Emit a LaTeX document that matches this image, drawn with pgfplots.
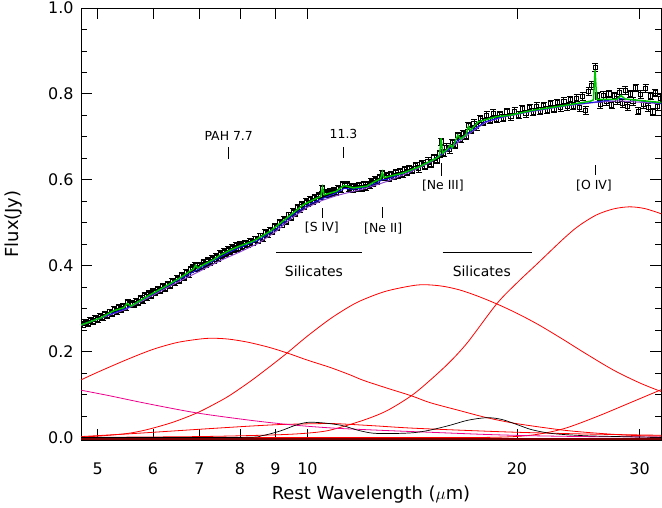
\documentclass[border=0pt]{standalone}
\usepackage{fontspec}
\setmainfont{DejaVu Sans}
\usepackage{pgfplots}
\pgfplotsset{compat=1.18}
\usepackage{pgfplotstable}
\definecolor{fitgreen}{RGB}{0,200,0}
\definecolor{contblue}{RGB}{20,20,230}
\definecolor{contpurple}{RGB}{140,70,210}
\definecolor{darkred}{RGB}{120,0,0}

\pgfplotstableread{
x y e
4.72 .264 .007
4.76 .262 .007
4.80 .268 .007
4.84 .266 .007
4.88 .272 .007
4.92 .270 .007
4.96 .276 .007
5.00 .274 .007
5.04 .281 .007
5.08 .279 .007
5.12 .286 .007
5.16 .284 .007
5.20 .292 .007
5.24 .289 .007
5.28 .298 .007
5.32 .294 .007
5.36 .302 .007
5.40 .298 .007
5.44 .305 .007
5.48 .303 .007
5.52 .314 .007
5.56 .309 .007
5.60 .312 .007
5.64 .310 .007
5.68 .317 .007
5.72 .315 .007
5.76 .323 .007
5.80 .320 .007
5.84 .330 .007
5.88 .327 .007
5.92 .335 .007
5.96 .331 .007
6.00 .340 .007
6.05 .337 .007
6.10 .345 .007
6.15 .342 .007
6.20 .351 .007
6.25 .347 .007
6.30 .357 .007
6.35 .353 .007
6.40 .364 .007
6.45 .360 .007
6.50 .370 .007
6.55 .366 .007
6.60 .377 .007
6.65 .372 .007
6.70 .384 .007
6.75 .380 .007
6.80 .391 .007
6.85 .395 .007
6.90 .401 .007
6.95 .394 .007
7.00 .400 .007
7.05 .398 .007
7.10 .407 .007
7.15 .403 .007
7.20 .412 .007
7.25 .408 .007
7.30 .416 .007
7.35 .411 .007
7.40 .421 .007
7.45 .417 .007
7.50 .428 .007
7.55 .423 .007
7.60 .433 .007
7.65 .429 .007
7.70 .438 .007
7.75 .433 .007
7.80 .442 .007
7.85 .437 .007
7.90 .446 .007
7.95 .441 .007
8.00 .449 .007
8.07 .445 .007
8.14 .452 .007
8.21 .449 .007
8.28 .456 .007
8.35 .453 .007
8.42 .462 .007
8.49 .459 .007
8.56 .469 .007
8.63 .464 .007
8.70 .477 .007
8.77 .472 .007
8.84 .483 .007
8.91 .479 .007
8.98 .492 .007
9.05 .488 .007
9.12 .500 .007
9.19 .495 .007
9.26 .508 .007
9.33 .504 .007
9.40 .518 .007
9.47 .513 .007
9.54 .526 .007
9.61 .522 .007
9.68 .535 .007
9.75 .530 .007
9.82 .542 .007
9.89 .538 .007
9.96 .549 .007
10.03 .544 .007
10.10 .554 .007
10.17 .550 .007
10.24 .558 .007
10.31 .554 .007
10.38 .563 .007
10.45 .560 .007
10.51 .579 .007
10.58 .566 .007
10.65 .570 .007
10.72 .566 .007
10.79 .573 .007
10.86 .569 .007
10.93 .575 .007
11.00 .571 .007
11.08 .580 .007
11.16 .578 .007
11.24 .588 .007
11.32 .586 .007
11.40 .589 .007
11.48 .580 .007
11.56 .584 .007
11.64 .578 .007
11.72 .584 .007
11.80 .579 .007
11.88 .586 .007
11.96 .580 .007
12.04 .588 .007
12.12 .583 .007
12.20 .590 .007
12.28 .586 .007
12.36 .595 .007
12.44 .591 .007
12.52 .600 .007
12.60 .597 .007
12.70 .606 .007
12.81 .614 .007
12.90 .605 .007
13.00 .610 .007
13.10 .604 .007
13.20 .613 .007
13.30 .607 .007
13.40 .617 .007
13.50 .610 .007
13.60 .620 .007
13.70 .613 .007
13.80 .623 .007
13.90 .617 .007
14.00 .627 .007
14.15 .622 .008
14.30 .632 .008
14.45 .626 .008
14.60 .638 .008
14.75 .632 .008
14.90 .643 .008
15.05 .637 .008
15.20 .652 .008
15.35 .645 .008
15.50 .660 .008
15.57 .688 .008
15.70 .662 .008
15.85 .676 .008
16.00 .670 .008
16.15 .686 .008
16.30 .680 .008
16.45 .703 .008
16.60 .695 .008
16.75 .708 .008
16.90 .702 .008
17.03 .726 .008
17.20 .716 .008
17.35 .732 .008
17.50 .724 .008
17.70 .742 .008
17.90 .734 .008
18.10 .750 .008
18.30 .738 .008
18.50 .755 .008
18.70 .741 .008
18.90 .752 .008
19.10 .744 .008
19.35 .758 .008
19.60 .747 .008
19.85 .760 .008
20.10 .750 .008
20.35 .765 .008
20.60 .754 .008
20.85 .768 .008
21.10 .757 .008
21.35 .771 .008
21.60 .760 .008
21.85 .773 .008
22.10 .762 .008
22.35 .777 .008
22.60 .765 .008
22.85 .780 .008
23.10 .768 .008
23.35 .783 .008
23.60 .770 .008
23.85 .787 .008
24.10 .772 .008
24.35 .790 .008
24.60 .768 .009
24.85 .794 .009
25.10 .762 .009
25.35 .805 .009
25.60 .820 .009
25.89 .862 .009
26.10 .795 .009
26.35 .775 .009
26.60 .797 .009
26.85 .782 .009
27.10 .800 .009
27.35 .774 .009
27.60 .795 .009
27.85 .785 .009
28.10 .803 .009
28.35 .778 .009
28.60 .808 .009
28.85 .770 .009
29.10 .800 .009
29.35 .783 .009
29.60 .814 .009
29.85 .760 .009
30.10 .798 .009
30.35 .776 .009
30.60 .812 .009
30.85 .768 .009
31.10 .795 .009
31.35 .758 .009
31.60 .802 .009
31.85 .770 .009
32.10 .790 .009
}\obsdata

\begin{document}
\begin{tikzpicture}
\begin{axis}[
  scale only axis,
  width=580bp, height=432bp,
  xmode=log,
  xmin=4.73, xmax=32.2,
  ymin=-0.006, ymax=1.0,
  xtick={5,6,7,8,9,10,20,30},
  xticklabels={5,6,7,8,9,10,20,30},
  minor xtick={},
  ytick={0,0.2,0.4,0.6,0.8,1.0},
  minor ytick={0.05,0.1,0.15,0.25,0.3,0.35,0.45,0.5,0.55,0.65,0.7,0.75,0.85,0.9,0.95},
  yticklabel style={/pgf/number format/.cd, fixed, fixed zerofill, precision=1, /tikz/.cd, xshift=-4bp},
  xticklabel style={yshift=-19bp},
  /pgf/number format/assume math mode=true,
  tick label style={font=\fontsize{16}{18}\selectfont},
  major tick length=11bp,
  minor tick length=6bp,
  axis line style={line width=0.8bp},
  every tick/.style={black, line width=0.8bp},
  xlabel={Rest Wavelength ($\mu$m)},
  ylabel={Flux(Jy)},
  label style={font=\fontsize{18}{20}\selectfont},
  xlabel style={at={(axis description cs:0.5,-0.127)}, anchor=center},
  ylabel style={at={(axis description cs:-0.117,0.5)}, anchor=center},
  clip=true,
  clip marker paths=true,
]
% components
\addplot[darkred, line width=2bp] coordinates {(4.73,-0.004) (32.2,-0.004)};
\addplot[red, line width=0.8bp, smooth] coordinates {
(4.73,0.134) (5.0,0.152) (5.5,0.181) (6.0,0.205) (6.5,0.221) (7.0,0.229) (7.3,0.231) (7.7,0.229) (8.2,0.222) (8.8,0.210) (9.34,0.197) (10.0,0.180) (10.78,0.163) (11.5,0.146) (12.03,0.133) (13,0.115) (14.1,0.097) (15,0.081) (16.5,0.063) (18.1,0.046) (20,0.032) (23.3,0.017) (26,0.010) (29,0.005) (32.2,0.003)};
\addplot[red, line width=0.8bp, smooth] coordinates {
(4.73,0.001) (5.0,0.003) (5.5,0.009) (5.88,0.018) (6.4,0.035) (6.94,0.057) (7.4,0.080) (7.74,0.098) (8.27,0.130) (8.8,0.163) (9.34,0.196) (10.0,0.236) (10.78,0.276) (11.5,0.305) (12.03,0.321) (13,0.341) (14.4,0.355) (15.5,0.353) (16.5,0.344) (17.5,0.330) (18.7,0.311) (20,0.289) (21.5,0.262) (23.3,0.228) (25,0.197) (27.5,0.157) (30,0.127) (32.2,0.107)};
\addplot[red, line width=0.8bp, smooth] coordinates {
(4.73,0.000) (7,0.002) (9,0.006) (10,0.010) (10.78,0.017) (12.03,0.040) (13,0.062) (14.1,0.097) (15,0.133) (16,0.175) (17,0.222) (18.7,0.311) (20,0.360) (21.4,0.405) (23.3,0.462) (24.5,0.492) (26,0.518) (27.5,0.532) (29,0.537) (30.5,0.533) (32.2,0.521)};
\addplot[red, line width=0.8bp, smooth] coordinates {
(4.73,0.000) (12,0.000) (18,0.000) (20.9,0.005) (23.3,0.020) (26,0.048) (29,0.080) (32.2,0.111)};
\addplot[red, line width=0.8bp, smooth] coordinates {
(4.73,0.002) (5.5,0.008) (5.88,0.011) (7,0.019) (8.2,0.026) (9.14,0.030) (10.3,0.032) (11,0.032) (12.5,0.027) (14,0.022) (16.5,0.017) (20,0.012) (25,0.008) (32.2,0.005)};
\addplot[magenta, line width=0.8bp, smooth] coordinates {
(4.73,0.110) (5.2,0.097) (5.88,0.079) (6.94,0.057) (8.18,0.041) (9.14,0.032) (10,0.026) (11.1,0.021) (13,0.016) (15,0.012) (18,0.007) (20.9,0.004) (25,0.002) (32.2,0.001)};
\addplot[black, line width=0.7bp, smooth] coordinates {
(4.73,0.000) (8.0,0.000) (8.6,0.004) (9.14,0.015) (9.6,0.028) (10.0,0.035) (10.5,0.034) (11.2,0.028) (11.8,0.017) (12.4,0.010) (13.2,0.009) (14.2,0.011) (15.0,0.017) (16.0,0.028) (17.0,0.040) (18.1,0.046) (19.0,0.042) (20.0,0.030) (21.0,0.018) (22.5,0.009) (25,0.004) (28,0.002) (32.2,0.000)};
% observed data
\addplot[black, only marks, mark=square, mark size=2.1bp, mark options={line width=0.9bp},
  error bars/.cd, y dir=both, y explicit, error mark options={rotate=90, mark size=3bp, line width=0.9bp}, error bar style={line width=0.9bp}]
  table[x=x, y=y, y error=e] {\obsdata};
% continuum and fit
\addplot[contpurple, line width=1bp] coordinates {
(4.73,0.261) (5.5,0.299) (6,0.331) (6.5,0.361) (7,0.387) (7.5,0.412) (8,0.432) (8.5,0.452) (9,0.479) (9.5,0.511) (10,0.536) (10.5,0.552) (11,0.563) (11.5,0.571) (12,0.578) (12.5,0.587) (13,0.596) (14,0.617) (15,0.640) (16,0.671) (17,0.705) (18,0.733) (19,0.745) (21,0.759) (23.5,0.772) (25.9,0.780) (28,0.784) (32.2,0.777)};
\addplot[contblue, line width=1bp] coordinates {
(4.73,0.262) (5.5,0.301) (6,0.334) (6.5,0.365) (7,0.393) (7.5,0.420) (7.74,0.432) (8,0.442) (8.5,0.459) (9,0.484) (9.5,0.516) (10,0.541) (10.5,0.556) (11,0.569) (11.3,0.580) (11.6,0.578) (12,0.581) (12.6,0.593) (12.8,0.600) (13,0.601) (14,0.620) (15,0.642) (16,0.672) (16.45,0.692) (17,0.708) (18,0.735) (19,0.746) (21,0.760) (23.5,0.773) (25.9,0.781) (28.2,0.789) (32.2,0.778)};
\addplot[fitgreen, line width=1.5bp] coordinates {
(4.73,0.262) (4.85,0.268) (5.04,0.278) (5.27,0.295) (5.45,0.302) (5.51,0.312) (5.58,0.306) (5.88,0.328) (6.21,0.349) (6.57,0.372) (6.78,0.387) (6.86,0.392) (6.91,0.401) (6.96,0.394) (7.05,0.400) (7.33,0.414) (7.5,0.425) (7.74,0.436) (8.0,0.446) (8.36,0.457) (8.84,0.480) (9.34,0.511) (9.87,0.542) (10.31,0.557) (10.45,0.561) (10.51,0.582) (10.57,0.565) (11.0,0.573) (11.29,0.587) (11.64,0.581) (12.17,0.585) (12.5,0.596) (12.74,0.602) (12.81,0.618) (12.88,0.605) (13.74,0.616) (14.5,0.631) (15.3,0.650) (15.48,0.655) (15.56,0.697) (15.64,0.662) (15.9,0.672) (16.03,0.681) (16.15,0.675) (16.45,0.704) (16.6,0.695) (16.9,0.705) (17.03,0.724) (17.15,0.715) (17.6,0.735) (18.7,0.747) (19.5,0.750) (21.1,0.762) (23.6,0.774) (25.5,0.783) (25.75,0.786) (25.89,0.855) (26.03,0.787) (27.8,0.787) (28.22,0.796) (28.6,0.788) (32.2,0.780)};
% annotations
\begin{scope}[every node/.style={font=\fontsize{12.5}{14}\selectfont, inner sep=0pt}]
\node at (axis cs:7.71,0.703) {PAH 7.7};
\draw[line width=0.7bp] (axis cs:7.71,0.649) -- (axis cs:7.71,0.677);
\node at (axis cs:11.27,0.707) {11.3};
\draw[line width=0.7bp] (axis cs:11.27,0.651) -- (axis cs:11.27,0.677);
\draw[line width=0.7bp] (axis cs:10.52,0.512) -- (axis cs:10.52,0.535);
\node at (axis cs:10.49,0.488) {[S IV]};
\draw[line width=0.7bp] (axis cs:12.81,0.512) -- (axis cs:12.81,0.537);
\node at (axis cs:12.85,0.486) {[Ne II]};
\draw[line width=0.7bp] (axis cs:15.55,0.609) -- (axis cs:15.55,0.640);
\node at (axis cs:15.65,0.586) {[Ne III]};
\draw[line width=0.7bp] (axis cs:25.9,0.612) -- (axis cs:25.9,0.635);
\node at (axis cs:25.8,0.586) {[O IV]};
\end{scope}
\draw[line width=0.8bp] (axis cs:9.02,0.430) -- (axis cs:11.99,0.430);
\node[font=\fontsize{14}{16}\selectfont] at (axis cs:10.22,0.388) {Silicates};
\draw[line width=0.8bp] (axis cs:15.64,0.430) -- (axis cs:21.0,0.430);
\node[font=\fontsize{14}{16}\selectfont] at (axis cs:17.8,0.388) {Silicates};
\end{axis}
\pgfresetboundingbox
\path[use as bounding box] ([xshift=-81bp,yshift=-68bp]current axis.south west) rectangle ([xshift=1bp,yshift=8bp]current axis.north east);
\end{tikzpicture}
\end{document}
